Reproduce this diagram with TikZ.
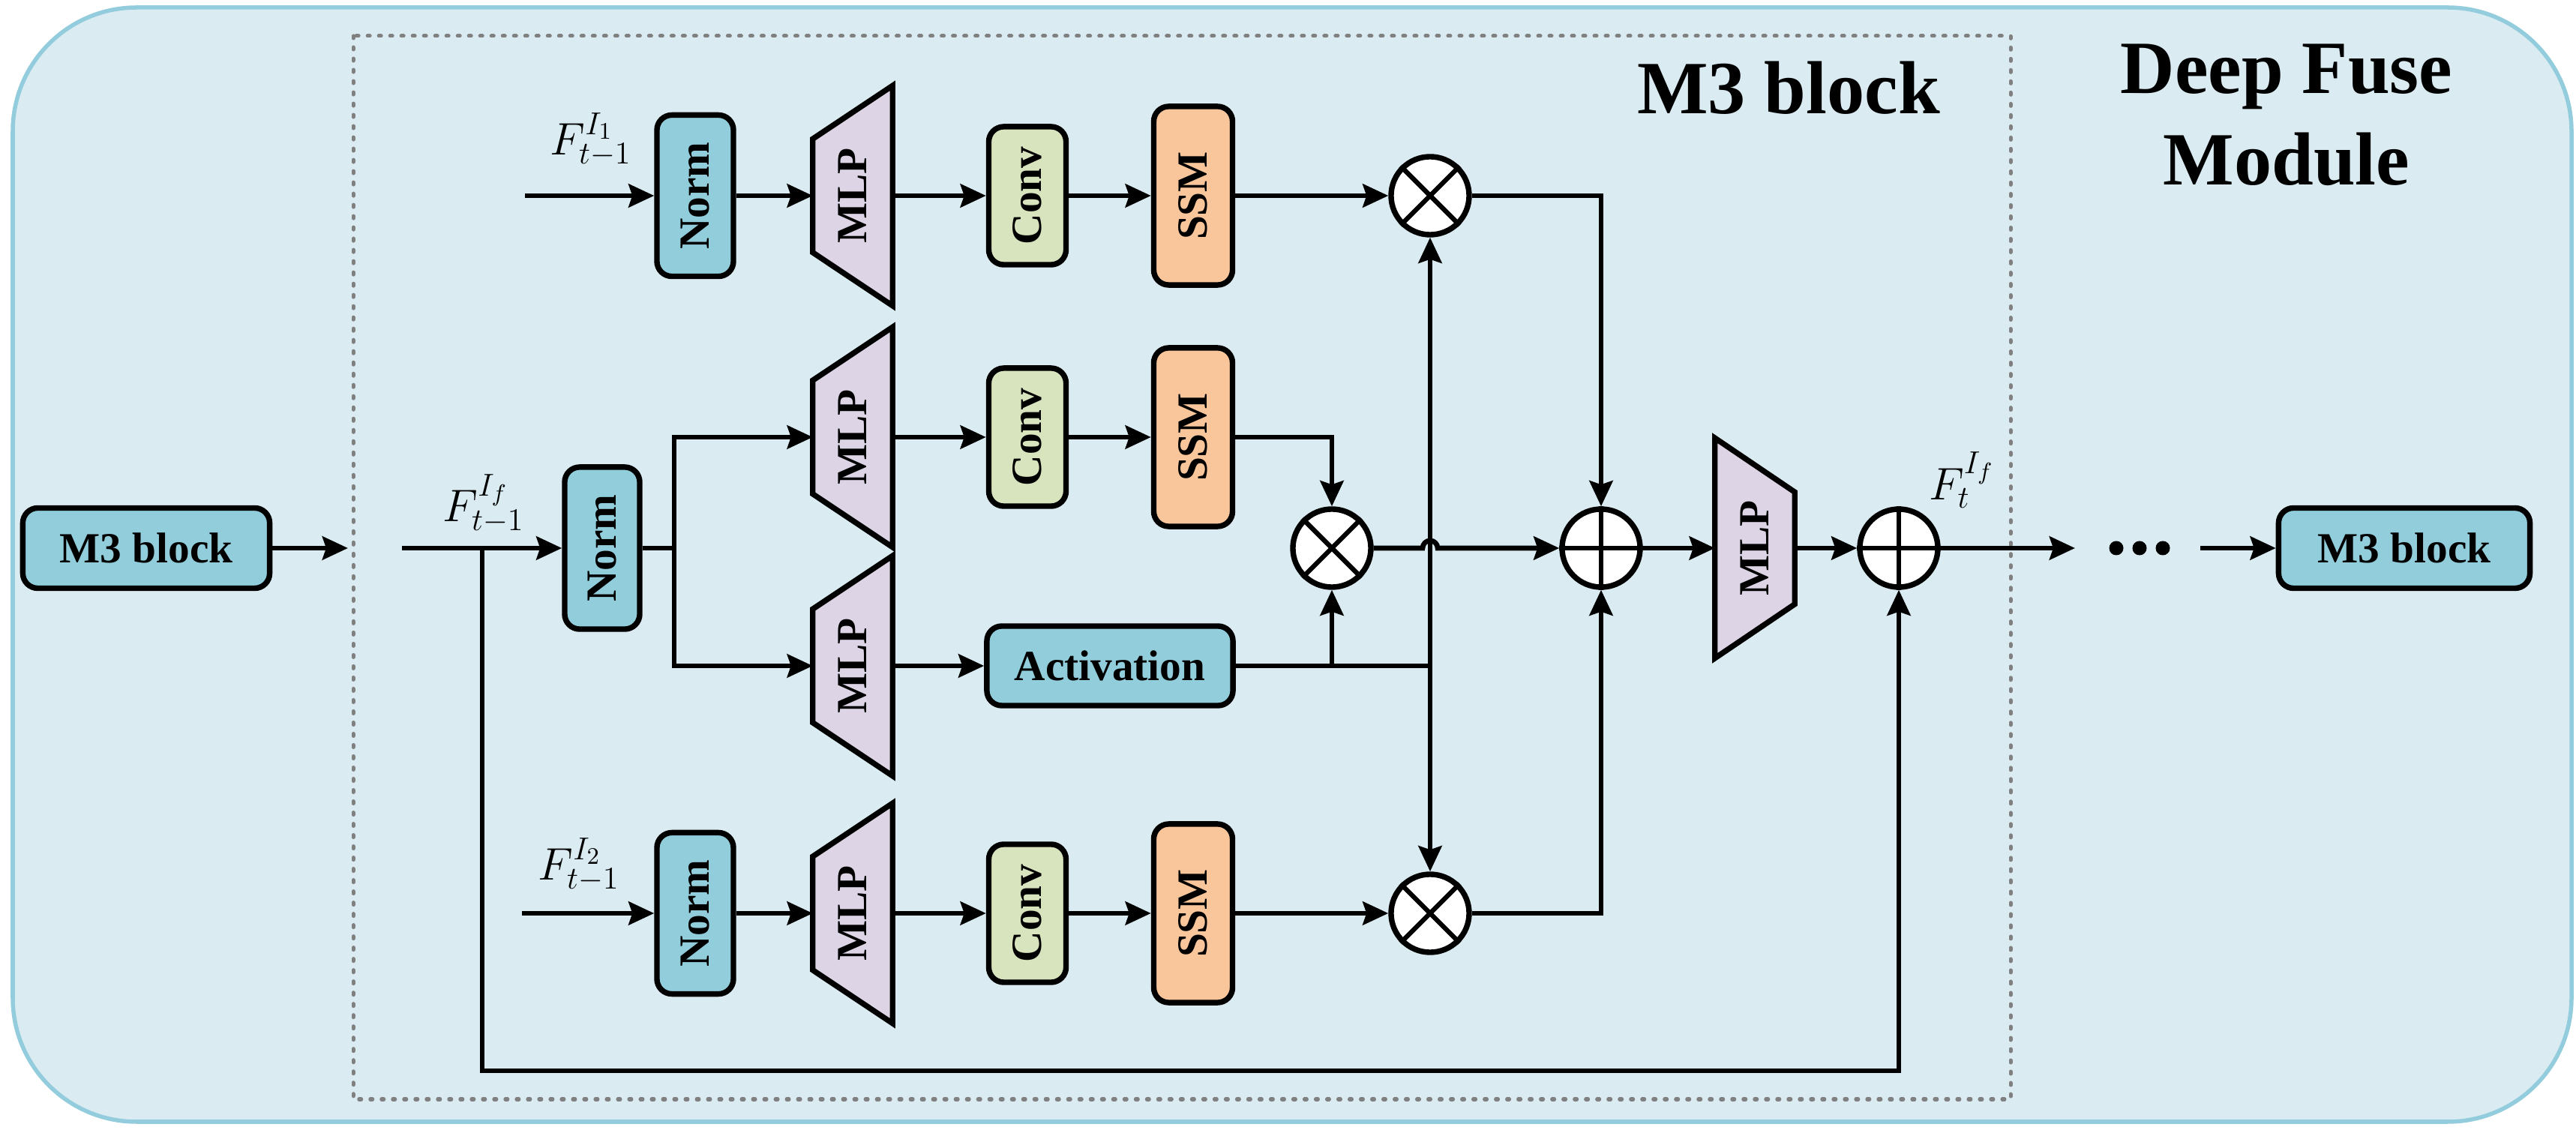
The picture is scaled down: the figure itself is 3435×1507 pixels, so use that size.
\documentclass[tikz,border=0pt]{standalone}
\usepackage[no-math]{fontspec}
\setmainfont{Liberation Serif}
\usetikzlibrary{arrows.meta,calc}
\definecolor{bgfill}{HTML}{DAEBF2}
\definecolor{bordercol}{HTML}{93CDDD}
\definecolor{tealbox}{HTML}{92CDDC}
\definecolor{mlpviolet}{HTML}{DDD5E6}
\definecolor{convgreen}{HTML}{D7E4BD}
\definecolor{ssmpeach}{HTML}{F9C69B}
\definecolor{dashgray}{HTML}{808080}
\pgfdeclarelayer{bg}
\pgfsetlayers{bg,main}
\begin{document}
\begin{tikzpicture}[x=0.01cm,y=-0.01cm,
  box/.style={draw=black,line width=2.1pt,rounded corners=0.2cm,inner sep=0pt,font=\fontsize{16.3}{18}\selectfont\bfseries},
  normbox/.style={box,fill=tealbox,minimum width=1.02cm,minimum height=2.15cm},
  convbox/.style={box,fill=convgreen,minimum width=1.03cm,minimum height=1.84cm},
  ssmbox/.style={box,fill=ssmpeach,minimum width=1.05cm,minimum height=2.38cm},
  widebox/.style={box,fill=tealbox,minimum height=1.07cm},
  mlpnode/.style={inner sep=0pt,minimum width=1.05cm,minimum height=2.92cm,font=\fontsize{16.3}{18}\selectfont\bfseries},
  mlpshape/.style={draw=black,line width=2.1pt,fill=mlpviolet,line join=miter},
  opnode/.style={circle,draw=black,line width=2.1pt,fill=white,minimum size=1.04cm,inner sep=0pt},
  opline/.style={line width=1.8pt},
  conn/.style={line width=1.9pt},
  arr/.style={conn,-{Stealth[length=0.34cm,width=0.31cm,inset=0.05cm]}},
  mathlbl/.style={font=\fontsize{18.5}{20}\selectfont,inner sep=0pt},
  title/.style={font=\fontsize{28.5}{34.7}\selectfont\bfseries,inner sep=0pt,align=center},
]
\useasboundingbox (0,0) rectangle (3435,1507);
\begin{pgfonlayer}{bg}
\draw[draw=bordercol,line width=0.055cm,fill=bgfill,rounded corners=1.65cm] (17,10) rectangle (3429,1496);
\draw[dashgray,line width=0.05cm,line cap=round,dash pattern=on 0.03cm off 0.12cm] (471,48) rectangle (2681,1466);
\end{pgfonlayer}

% titles
\node[title,anchor=base] (t1) at (2385,152) {M3 block};
\node[title] (t2) at (3049,153) {Deep Fuse\\Module};

% outer blocks
\node[widebox,minimum width=3.29cm] (m3L) at (195,731) {M3 block};
\node[widebox,minimum width=3.35cm] (m3R) at (3206,731) {M3 block};

% row 1
\node[normbox] (norm1) at (927,261) {\rotatebox{90}{Norm}};
\node[mlpnode] (mlp1) at (1137,261) {\rotatebox{90}{MLP}};
\node[convbox] (conv1) at (1370,261) {\rotatebox{90}{Conv}};
\node[ssmbox] (ssm1) at (1591,261) {\rotatebox{90}{SSM}};
\node[opnode] (ot1) at (1907,261) {};
% row 2
\node[normbox,minimum width=1.0cm,minimum height=2.16cm] (norm2) at (803,731) {\rotatebox{90}{Norm}};
\node[mlpnode] (mlp2) at (1137,583) {\rotatebox{90}{MLP}};
\node[convbox] (conv2) at (1370,583) {\rotatebox{90}{Conv}};
\node[ssmbox] (ssm2) at (1591,583) {\rotatebox{90}{SSM}};
\node[opnode] (ot2) at (1776,731) {};
\node[mlpnode] (mlp3) at (1137,888) {\rotatebox{90}{MLP}};
\node[widebox,minimum width=3.28cm,minimum height=1.06cm] (act) at (1480,888) {Activation};
\node[opnode] (op1) at (2135,731) {};
\node[mlpnode] (mlp4) at (2340,731) {\rotatebox{90}{MLP}};
\node[opnode] (op2) at (2532,731) {};
% row 4
\node[normbox] (norm3) at (927,1218) {\rotatebox{90}{Norm}};
\node[mlpnode] (mlp5) at (1137,1218) {\rotatebox{90}{MLP}};
\node[convbox] (conv3) at (1370,1218) {\rotatebox{90}{Conv}};
\node[ssmbox] (ssm3) at (1591,1218) {\rotatebox{90}{SSM}};
\node[opnode] (ot3) at (1907,1218) {};

% trapezoids
\begin{pgfonlayer}{bg}
\foreach \m in {mlp1,mlp2,mlp3,mlp5}{
  \draw[mlpshape] (\m.north east) -- (\m.south east) -- ([yshift=0.71cm]\m.south west) -- ([yshift=-0.71cm]\m.north west) -- cycle;
}
\draw[mlpshape] (mlp4.north west) -- (mlp4.south west) -- ([yshift=0.72cm]mlp4.south east) -- ([yshift=-0.72cm]mlp4.north east) -- cycle;
\end{pgfonlayer}

% operator symbols
\foreach \o in {ot1,ot2,ot3}{
  \draw[opline] (\o.north east) -- (\o.south west) (\o.north west) -- (\o.south east);
}
\foreach \o in {op1,op2}{
  \draw[opline] (\o.north) -- (\o.south) (\o.west) -- (\o.east);
}

% labels
\node[mathlbl] (l1) at (788,186) {$F^{I_1}_{t-1}$};
\node[mathlbl] (l2) at (645,672) {$F^{I_f}_{t-1}$};
\node[mathlbl] (l3) at (772,1153) {$F^{I_2}_{t-1}$};
\node[mathlbl] (l4) at (2616,640) {$F^{I_f}_{t}$};

% coordinates
\coordinate (in1) at (700,261);
\coordinate (in2) at (536,731);
\coordinate (in3) at (696,1218);
\coordinate (m3Lend) at (464,731);
\coordinate (j0) at (643,731);
\coordinate (rb) at (643,1428);
\coordinate (sp) at (899,731);
\coordinate (aj) at (1907,888);
\coordinate (outend) at (2767,731);
\coordinate (dots) at (2853,731);
\coordinate (dstart) at (2934,731);

% row 1 connectors
\draw[arr] (in1) -- (norm1.west);
\draw[arr] (norm1.east) -- (mlp1.west);
\draw[arr] (mlp1.east) -- (conv1.west);
\draw[arr] (conv1.east) -- (ssm1.west);
\draw[arr] (ssm1.east) -- (ot1.west);
\draw[arr] (ot1.east) -| (op1.north);

% row 2 connectors
\draw[arr] (m3L.east) -- (m3Lend);
\draw[arr] (in2) -- (norm2.west);
\draw[arr] (j0) -- (rb) -| (op2.south);
\draw[conn] (norm2.east) -- (sp);
\draw[arr] (sp) |- (mlp2.west);
\draw[arr] (sp) |- (mlp3.west);
\draw[arr] (mlp2.east) -- (conv2.west);
\draw[arr] (conv2.east) -- (ssm2.west);
\draw[arr] (ssm2.east) -| (ot2.north);
\draw[arr] (mlp3.east) -- (act.west);
\draw[conn] (act.east) -- (aj);
\draw[arr] (act.east -| ot2.south) -- (ot2.south);
\draw[arr] (aj) -- (ot1.south);
\draw[arr] (aj) -- (ot3.north);
\coordinate (hop) at (ot2.east -| aj);
\draw[arr] (ot2.east) -- ([xshift=-0.1cm]hop) arc[start angle=180,end angle=0,radius=0.1cm] -- (op1.west);
\draw[arr] (op1.east) -- (mlp4.west);
\draw[arr] (mlp4.east) -- (op2.west);
\draw[arr] (op2.east) -- (outend);
\fill ([xshift=-0.31cm]dots) circle (0.095cm) (dots) circle (0.095cm) ([xshift=0.31cm]dots) circle (0.095cm);
\draw[arr] (dstart) -- (m3R.west);

% row 4 connectors
\draw[arr] (in3) -- (norm3.west);
\draw[arr] (norm3.east) -- (mlp5.west);
\draw[arr] (mlp5.east) -- (conv3.west);
\draw[arr] (conv3.east) -- (ssm3.west);
\draw[arr] (ssm3.east) -- (ot3.west);
\draw[arr] (ot3.east) -| (op1.south);
\end{tikzpicture}
\end{document}
